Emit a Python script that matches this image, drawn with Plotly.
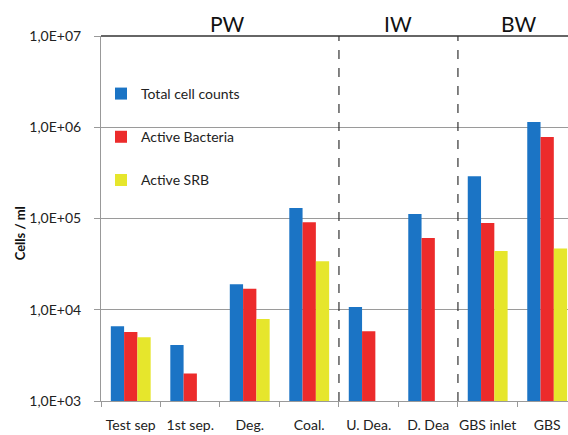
import plotly.graph_objects as go

# Sampling points along the water system
categories = ["Test sep", "1st sep.", "Deg.", "Coal.", "U. Dea.", "D. Dea", "GBS inlet", "GBS"]

# Cell densities (cells / ml); None where no count was obtained
total_cells = [6.6e3, 4.1e3, 1.9e4, 1.3e5, 1.07e4, 1.12e5, 2.9e5, 1.14e6]
active_bacteria = [5.7e3, 2.0e3, 1.7e4, 9.1e4, 5.8e3, 6.1e4, 8.9e4, 7.8e5]
active_srb = [5.0e3, None, 7.9e3, 3.4e4, None, None, 4.4e4, 4.7e4]

series_names = ["Total cell counts", "Active Bacteria", "Active SRB"]
series_colors = ["#1b74c5", "#ec2b2b", "#e6e62c"]

# Water-type sections and their label positions (category index)
sections = ["PW", "IW", "BW"]
section_centers = [1.63, 4.49, 6.51]
section_dividers = [3.5, 5.5]

tick_vals = [1e3, 1e4, 1e5, 1e6, 1e7]
tick_text = ["1,0E+03", "1,0E+04", "1,0E+05", "1,0E+06", "1,0E+07"]

FONT = "Lato, 'Open Sans', sans-serif"

fig = go.Figure()
for i, (name, vals, col) in enumerate(zip(series_names, [total_cells, active_bacteria, active_srb], series_colors)):
    fig.add_trace(go.Bar(
        x=categories, y=vals, name=name,
        marker=dict(color=col, line=dict(width=0)),
        legendgroup=f"g{i}",
    ))

shapes = []
for d in section_dividers:
    shapes.append(dict(type="line", xref="x", yref="paper", x0=d, x1=d, y0=0, y1=1,
                       line=dict(color="#333333", width=1.2, dash="dash")))
# dark top border at 1,0E+07
shapes.append(dict(type="line", xref="paper", yref="paper", x0=0, x1=1, y0=1, y1=1,
                   line=dict(color="#333333", width=1.5)))

annotations = []
for s, c in zip(sections, section_centers):
    annotations.append(dict(text=s, x=c, xref="x", y=1.0, yref="paper", yanchor="bottom",
                            showarrow=False, font=dict(size=21, color="#111111", family=FONT),
                            yshift=-2))
# y-axis title
annotations.append(dict(text="<b>Cells / ml</b>", x=-0.173, xref="paper", y=0.46, yref="paper",
                        xanchor="center", yanchor="middle", textangle=-90, showarrow=False,
                        font=dict(size=13, color="#111111", family=FONT)))

fig.update_layout(
    width=568, height=435,
    margin=dict(l=101, r=0, t=36, b=34),
    paper_bgcolor="white", plot_bgcolor="white",
    barmode="group", bargap=0.33, bargroupgap=0,
    font=dict(family=FONT, size=13, color="#222222"),
    shapes=shapes, annotations=annotations,
    legend=dict(x=0.0, y=0.885, xanchor="left", yanchor="top",
                bgcolor="rgba(0,0,0,0)", font=dict(size=14, family=FONT),
                tracegroupgap=22, itemwidth=30),
    xaxis=dict(
        type="category", range=[-0.5, 7.35], automargin=False,
        showgrid=False, showline=True, linecolor="#999999", linewidth=1,
        ticks="outside", tickson="boundaries", ticklen=5, tickcolor="#999999",
        tickangle=0, ticklabelstandoff=11,
        tickfont=dict(size=14, family=FONT), zeroline=False,
    ),
    yaxis=dict(
        type="log", range=[3, 7], automargin=False,
        tickvals=tick_vals, ticktext=tick_text,
        showgrid=True, gridcolor="#9a9a9a", gridwidth=1,
        showline=True, linecolor="#999999", linewidth=1,
        ticks="outside", ticklen=6, tickcolor="#999999", ticklabelstandoff=10,
        tickfont=dict(size=14, family=FONT),
    ),
)

fig.write_html("out.html")
